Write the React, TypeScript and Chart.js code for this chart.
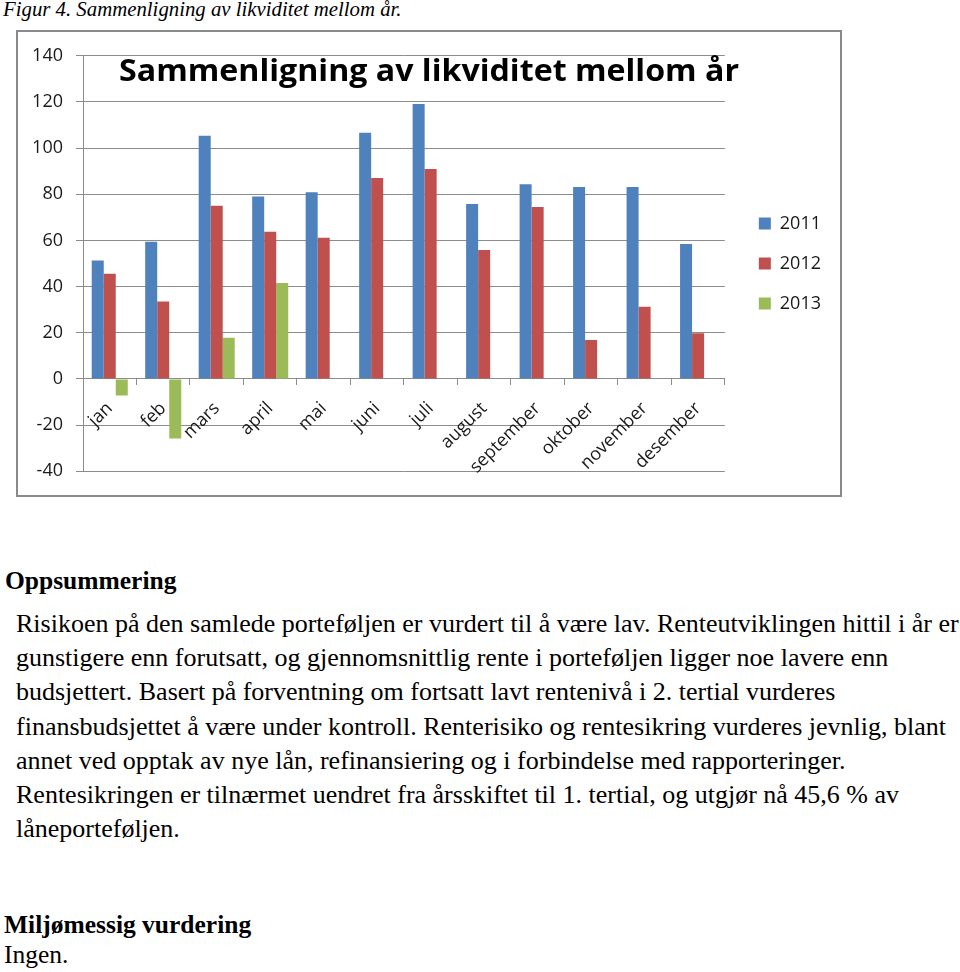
import React, { useEffect, useRef } from 'react';
import { Chart, registerables } from 'chart.js';

Chart.register(...registerables);

// ---------- data ----------
const months = ['jan', 'feb', 'mars', 'april', 'mai', 'juni', 'juli', 'august', 'september', 'oktober', 'november', 'desember'];
const values2011 = [51.3, 59.4, 105.4, 79, 80.9, 106.7, 119.1, 75.8, 84.3, 83.1, 83.1, 58.5];
const values2012 = [45.6, 33.5, 75, 63.8, 61.2, 87, 91, 55.9, 74.5, 16.9, 31.3, 19.8];
const values2013 = [-7.2, -25.8, 17.8, 41.6, null, null, null, null, null, null, null, null];
const seriesNames = ['2011', '2012', '2013'];
const seriesColors = ['#4f81bd', '#c0504d', '#9bbb59'];
const yMin = -40;
const yMax = 140;
const yStep = 20;
const chartTitle = 'Sammenligning av likviditet mellom år';
const captionText = 'Figur 4. Sammenligning av likviditet mellom år.';
const headingText = 'Oppsummering';
const bodyLines = [
  'Risikoen på den samlede porteføljen er vurdert til å være lav. Renteutviklingen hittil i år er',
  'gunstigere enn forutsatt, og gjennomsnittlig rente i porteføljen ligger noe lavere enn',
  'budsjettert. Basert på forventning om fortsatt lavt rentenivå i 2. tertial vurderes',
  'finansbudsjettet å være under kontroll. Renterisiko og rentesikring vurderes jevnlig, blant',
  'annet ved opptak av nye lån, refinansiering og i forbindelse med rapporteringer.',
  'Rentesikringen er tilnærmet uendret fra årsskiftet til 1. tertial, og utgjør nå 45,6 % av',
  'låneporteføljen.',
];
const heading2Text = 'Miljømessig vurdering';
const footerText = 'Ingen.';

const FONT = '"Open Sans", Lato, sans-serif';
const GRID = '#8c8c8c';
const TEXT = '#1a1a1a';
const TITLE_WIDTH = 620;

const overlayTitle = {
  id: 'overlayTitle',
  afterDraw(chart: any) {
    const ctx = chart.ctx;
    ctx.save();
    ctx.font = 'bold 30px ' + FONT;
    ctx.fillStyle = '#000';
    ctx.textAlign = 'center';
    ctx.textBaseline = 'alphabetic';
    const w = ctx.measureText(chartTitle).width;
    const sx = w > 0 ? TITLE_WIDTH / w : 1;
    ctx.translate(chart.width / 2, chart.chartArea.top + 25);
    ctx.scale(sx, 1);
    ctx.fillText(chartTitle, 0, 0);
    ctx.restore();
  },
};

function BarChart() {
  const ref = useRef<HTMLCanvasElement | null>(null);
  useEffect(() => {
    if (!ref.current) return;
    const seriesValues = [values2011, values2012, values2013];
    const chart = new Chart(ref.current, {
      type: 'bar',
      data: {
        labels: months,
        datasets: seriesNames.map((name, i) => ({
          label: name,
          data: seriesValues[i],
          backgroundColor: seriesColors[i],
          borderWidth: 0,
          categoryPercentage: 0.674,
          barPercentage: 1,
        })),
      },
      options: {
        responsive: false,
        animation: false,
        layout: { padding: { left: 14, top: 22, bottom: 22, right: 9 } },
        plugins: {
          legend: {
            position: 'right',
            labels: {
              boxWidth: 12,
              boxHeight: 12,
              padding: 22,
              color: TEXT,
              font: { family: FONT, size: 18 },
            },
          },
          title: { display: false },
          tooltip: { enabled: false },
        },
        scales: {
          x: {
            position: { y: 0 } as any,
            grid: { display: true, drawOnChartArea: false, drawTicks: true, tickLength: 6, color: GRID, offset: true },
            border: { display: true, color: GRID, width: 1 },
            ticks: { minRotation: 45, maxRotation: 45, autoSkip: false, color: TEXT, font: { family: FONT, size: 18 }, padding: 13 },
            afterFit(s: any) { s.paddingLeft = 0; s.paddingRight = 0; },
          },
          y: {
            min: yMin,
            max: yMax,
            ticks: { stepSize: yStep, color: TEXT, font: { family: FONT, size: 18 }, padding: 13 },
            grid: { color: GRID, tickLength: 7 },
            border: { color: GRID },
            afterFit(s: any) { s.width = 51; },
          },
          yGap: {
            type: 'linear',
            position: 'right',
            display: true,
            grid: { display: false },
            ticks: { display: false },
            border: { display: false },
            afterFit(s: any) { s.width = 12; },
          },
        },
      } as any,
      plugins: [overlayTitle],
    });
    return () => chart.destroy();
  }, []);
  return <canvas ref={ref} width={822} height={463} style={{ display: 'block', width: 822, height: 463 }} />;
}

export default function App() {
  const serif = '"Liberation Serif", "Times New Roman", serif';
  return (
    <div style={{ position: 'absolute', left: 0, top: 0, width: 960, height: 972, overflow: 'hidden', background: '#fff', fontFamily: serif, color: '#000' }}>
      <div style={{ position: 'absolute', left: 3, top: -3, fontSize: 20.8, lineHeight: '24px', fontStyle: 'italic', whiteSpace: 'nowrap' }}>{captionText}</div>
      <div style={{ position: 'absolute', left: 16, top: 30, width: 822, height: 463, border: '2px solid #8a8a8a' }}>
        <BarChart />
      </div>
      <div style={{ position: 'absolute', left: 5, top: 566, fontSize: 25.5, lineHeight: '30px', fontWeight: 'bold', whiteSpace: 'nowrap' }}>{headingText}</div>
      <div style={{ position: 'absolute', left: 16, top: 607, fontSize: 26, lineHeight: '34.17px' }}>
        {bodyLines.map((l, i) => (
          <div key={i} style={{ whiteSpace: 'nowrap' }}>{l}</div>
        ))}
      </div>
      <div style={{ position: 'absolute', left: 4, top: 910, fontSize: 25.5, lineHeight: '30px', whiteSpace: 'nowrap' }}>
        <div style={{ fontWeight: 'bold' }}>{heading2Text}</div>
        <div>{footerText}</div>
      </div>
    </div>
  );
}
